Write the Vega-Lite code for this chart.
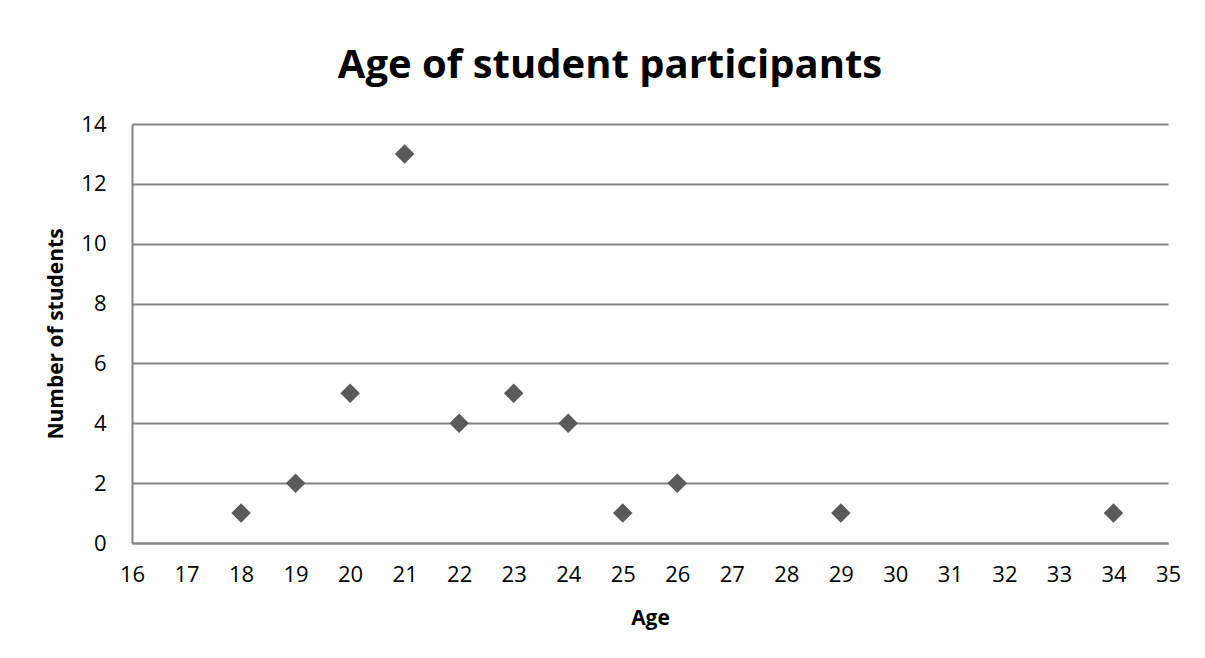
{
  "$schema": "https://vega.github.io/schema/vega-lite/v6.json",
  "width": 1036,
  "height": 419,
  "autosize": {"type": "none"},
  "padding": {"left": 132, "top": 124, "right": 37, "bottom": 115},
  "background": "white",
  "title": {
    "text": "Age of student participants",
    "font": "Open Sans",
    "fontSize": 40,
    "fontWeight": "bold",
    "color": "#000000",
    "anchor": "middle",
    "offset": 27,
    "dx": -40
  },
  "data": {
    "values": [
      {"age": 18, "count": 1},
      {"age": 19, "count": 2},
      {"age": 20, "count": 5},
      {"age": 21, "count": 13},
      {"age": 22, "count": 4},
      {"age": 23, "count": 5},
      {"age": 24, "count": 4},
      {"age": 25, "count": 1},
      {"age": 26, "count": 2},
      {"age": 29, "count": 1},
      {"age": 34, "count": 1}
    ]
  },
  "mark": {"type": "point", "shape": "diamond", "filled": true, "size": 380, "color": "#5a5a5a", "opacity": 1},
  "encoding": {
    "x": {
      "field": "age",
      "type": "quantitative",
      "title": "Age",
      "scale": {"domain": [16, 35], "nice": false, "zero": false},
      "axis": {
        "values": [16,17,18,19,20,21,22,23,24,25,26,27,28,29,30,31,32,33,34,35],
        "grid": false,
        "ticks": false,
        "domain": true,
        "domainColor": "#868686",
        "domainWidth": 2,
        "labelPadding": 21,
        "labelFont": "Open Sans",
        "labelFontSize": 22,
        "labelColor": "#000000",
        "labelFlush": false,
        "titleFont": "Open Sans",
        "titleFontSize": 21,
        "titleFontWeight": "bold",
        "titleColor": "#000000",
        "titlePadding": 22
      }
    },
    "y": {
      "field": "count",
      "type": "quantitative",
      "title": "Number of students",
      "scale": {"domain": [0, 14], "nice": false},
      "axis": {
        "values": [0,2,4,6,8,10,12,14],
        "grid": true,
        "gridColor": "#868686",
        "gridWidth": 2,
        "ticks": false,
        "domain": true,
        "domainColor": "#868686",
        "domainWidth": 2,
        "labelPadding": 26,
        "labelFont": "Open Sans",
        "labelFontSize": 22,
        "labelColor": "#000000",
        "labelFlush": false,
        "titleFont": "Open Sans",
        "titleFontSize": 21,
        "titleFontWeight": "bold",
        "titleColor": "#000000",
        "titlePadding": 14
      }
    }
  },
  "config": {"view": {"stroke": null}}
}
